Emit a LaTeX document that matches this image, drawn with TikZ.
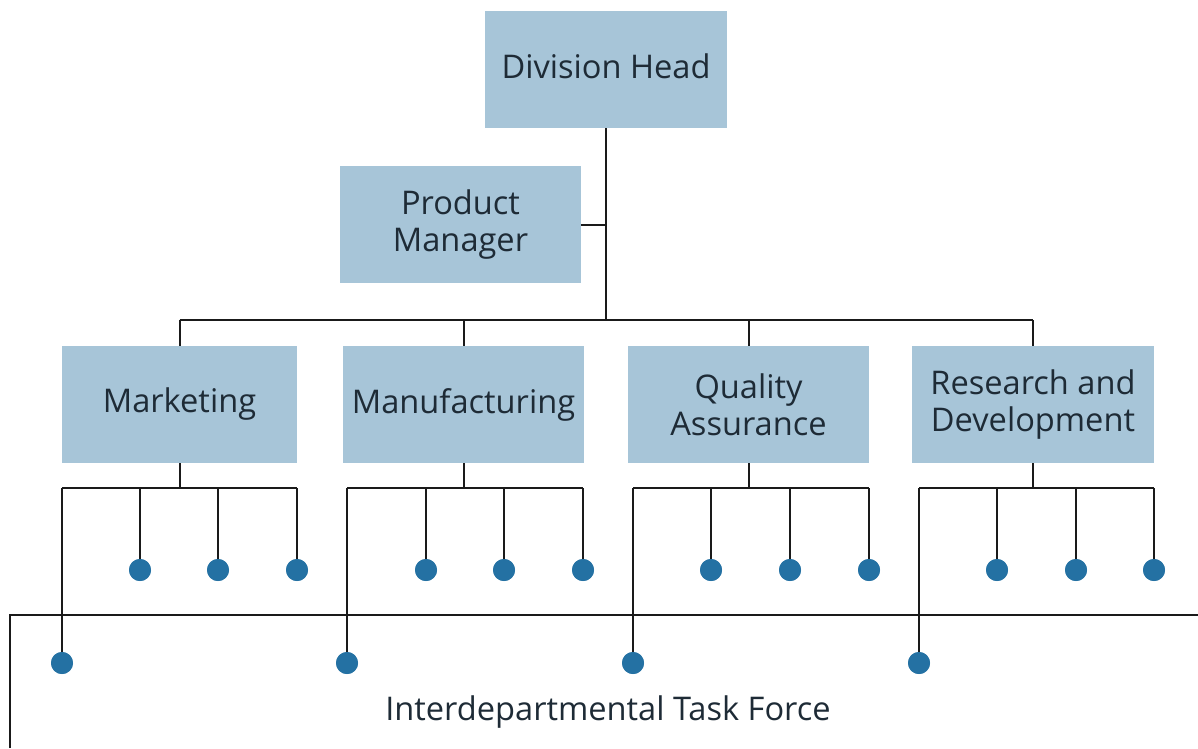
\documentclass[tikz,border=0pt]{standalone}
\usepackage{fontspec}
\setmainfont{Open Sans}
\definecolor{boxblue}{HTML}{A7C5D8}
\definecolor{dotblue}{HTML}{2471A3}
\definecolor{txt}{HTML}{1E2B36}
\definecolor{lines}{HTML}{1A1A1A}
\begin{document}
\begin{tikzpicture}[x=1pt,y=-1pt,
  unit/.style={fill=boxblue, text=txt, font=\fontsize{32.6}{37}\selectfont, align=center, inner sep=0pt, minimum height=117pt},
  member/.style={circle, fill=dotblue, inner sep=0pt, minimum size=22pt},
  link/.style={draw=lines, line width=2pt}]
\useasboundingbox (0,0) rectangle (1198,748);

% top
\node[unit, minimum width=242pt] (dh) at (606,69.5) {\raisebox{3pt}[\height][\depth]{Division Head}};
\node[unit, minimum width=241pt] (pm) at (460.5,224.5) {Product\\Manager};
\coordinate (pmj) at (606,224.5);
\coordinate (bus) at (606,320);
\draw[link] (dh.south) -- (bus);
\draw[link] (pm.east) -- (pmj);

% departments
\node[unit, minimum width=235pt] (mk) at (179.5,404.5) {Marketing};
\node[unit, minimum width=241pt] (mf) at (463.5,404.5) {Manufacturing};
\node[unit, minimum width=241pt] (qa) at (748.5,404.5) {Quality\\Assurance};
\node[unit, minimum width=242pt] (rd) at (1033,404.5) {Research and\\Development};

\draw[link] (mk.north |- bus) -- (rd.north |- bus);
\foreach \d in {mk,mf,qa,rd}{
  \draw[link] (\d.north |- bus) -- (\d.north);
}

% members
\foreach \d/\a/\b/\c/\e in {mk/62/140/218/297, mf/347/426/504/583, qa/633/711/790/869, rd/919/997/1076/1154}{
  \coordinate (\d j) at (\d.south |- 0,488);
  \coordinate (\d h0) at (\a,488);
  \coordinate (\d h1) at (\b,488);
  \coordinate (\d h2) at (\c,488);
  \coordinate (\d h3) at (\e,488);
  \node[member] (\d 0) at (\a,663) {};
  \node[member] (\d 1) at (\b,570) {};
  \node[member] (\d 2) at (\c,570) {};
  \node[member] (\d 3) at (\e,570) {};
  \draw[link] (\d.south) -- (\d j);
  \draw[link] (\d h0) -- (\d h3);
  \foreach \i in {0,1,2,3}{
    \draw[link] (\d h\i) -- (\d \i.center);
  }
  \foreach \i in {0,1,2,3}{
    \node[member] at (\d \i) {};
  }
}

% task force
\coordinate (tfB) at (10,748);
\coordinate (tfC) at (10,615);
\coordinate (tfR) at (1198,615);
\draw[link] (tfB) -- (tfC) -- (tfR);
\node[text=txt, font=\fontsize{32.6}{37}\selectfont, inner sep=0pt] (tf) at (608,712) {Interdepartmental Task Force};
\end{tikzpicture}
\end{document}
